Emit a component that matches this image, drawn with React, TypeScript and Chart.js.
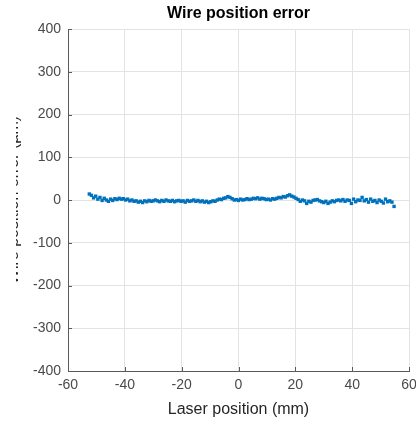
import React, { useEffect, useRef } from "react";
import { Chart, registerables } from "chart.js";

Chart.register(...registerables);

const laserPositions: number[] = [
  -52.5, -51.75, -51, -50.25, -49.5, -48.75, -48, -47.25, -46.5, -45.75,
  -45, -44.25, -43.5, -42.75, -42, -41.25, -40.5, -39.75, -39, -38.25,
  -37.5, -36.75, -36, -35.25, -34.5, -33.75, -33, -32.25, -31.5, -30.75,
  -30, -29.25, -28.5, -27.75, -27, -26.25, -25.5, -24.75, -24, -23.25,
  -22.5, -21.75, -21, -20.25, -19.5, -18.75, -18, -17.25, -16.5, -15.75,
  -15, -14.25, -13.5, -12.75, -12, -11.25, -10.5, -9.75, -9, -8.25,
  -7.5, -6.75, -6, -5.25, -4.5, -3.75, -3, -2.25, -1.5, -0.75,
  0, 0.75, 1.5, 2.25, 3, 3.75, 4.5, 5.25, 6, 6.75,
  7.5, 8.25, 9, 9.75, 10.5, 11.25, 12, 12.75, 13.5, 14.25,
  15, 15.75, 16.5, 17.25, 18, 18.75, 19.5, 20.25, 21, 21.75,
  22.5, 23.25, 24, 24.75, 25.5, 26.25, 27, 27.75, 28.5, 29.25,
  30, 30.75, 31.5, 32.25, 33, 33.75, 34.5, 35.25, 36, 36.75,
  37.5, 38.25, 39, 39.75, 40.5, 41.25, 42, 42.75, 43.5, 44.25,
  45, 45.75, 46.5, 47.25, 48, 48.75, 49.5, 50.25, 51, 51.75,
  52.5, 53.25, 54, 54.75,
];

const wireErrors: number[] = [
  14, 11, 5, 9, 2, 6, -1, 4, 0, -3,
  2, -1, 3, 1, 4, 2, 3, 0, 2, -2,
  0, -3, -2, -5, -3, -6, -2, -4, -1, -3,
  -2, 0, -2, -4, -1, -3, 0, -2, -3, -1,
  -4, -2, -1, -3, -2, -5, -1, -3, -2, 0,
  -3, -1, -4, -2, -5, -3, -6, -4, -2, -3,
  0, 2, 1, 4, 5, 8, 6, 3, 0, 1,
  -1, 2, 0, 1, 3, 1, 2, 4, 3, 5,
  2, 4, 3, 1, 2, 0, 3, 2, 4, 6,
  5, 8, 7, 10, 12, 9, 7, 4, 1, -3,
  0, -2, -8, -3, -5, -1, 0, 1, -2, -4,
  -6, -3, -8, -5, -2, -4, -1, 0, -2, 1,
  -3, 0, -1, -8, 2, -4, 0, -1, 6, -2,
  1, -5, 2, -3, -1, -6, 0, -3, -7, 2,
  -4, -2, -5, -15,
];

const xTickMin = -60;
const xTickMax = 60;
const xTickStep = 20;
const yTickMin = -400;
const yTickMax = 400;
const yTickStep = 100;

const chartTitle = "Wire position error";
const xTitle = "Laser position (mm)";
const yTitle = "Wire position error (\u00b5m)";

const FONT = "'Liberation Sans', Arial, Helvetica, sans-serif";
const AXIS_COLOR = "#5a5a5a";
const GRID_COLOR = "#e3e3e3";
const TICK_COLOR = "#4a4a4a";

const innerTicks = {
  id: "innerTicks",
  afterDraw(chart: any) {
    const { ctx, chartArea, scales } = chart;
    ctx.save();
    ctx.strokeStyle = AXIS_COLOR;
    ctx.lineWidth = 1;
    ctx.beginPath();
    scales.x.ticks.forEach((t: any) => {
      const px = Math.round(scales.x.getPixelForValue(t.value)) + 0.5;
      ctx.moveTo(px, chartArea.bottom);
      ctx.lineTo(px, chartArea.bottom - 4);
    });
    scales.y.ticks.forEach((t: any) => {
      const py = Math.round(scales.y.getPixelForValue(t.value)) + 0.5;
      ctx.moveTo(chartArea.left, py);
      ctx.lineTo(chartArea.left + 4, py);
    });
    ctx.stroke();
    ctx.restore();
  },
};

export default function App() {
  const ref = useRef<HTMLCanvasElement | null>(null);

  useEffect(() => {
    if (!ref.current) return;
    const points = laserPositions.map((x, i) => ({ x, y: wireErrors[i] }));
    const chart = new Chart(ref.current, {
      type: "scatter",
      data: {
        datasets: [
          {
            data: points,
            backgroundColor: "#0072BD",
            borderColor: "#0072BD",
            pointStyle: "rect",
            pointRadius: 2.4,
            pointBorderWidth: 0,
            showLine: false,
          },
        ],
      },
      plugins: [innerTicks],
      options: {
        animation: false,
        responsive: false,
        maintainAspectRatio: false,
        devicePixelRatio: 1,
        layout: { padding: { left: 0, right: 7, top: 0, bottom: 0 } },
        plugins: {
          legend: { display: false },
          tooltip: { enabled: false },
          title: {
            display: true,
            fullSize: false,
            text: chartTitle,
            color: "#000",
            font: { family: FONT, size: 16, weight: "bold", lineHeight: 1.2 },
            padding: { top: 4.4, bottom: 5.4 },
          },
        },
        scales: {
          x: {
            type: "linear",
            min: xTickMin,
            max: xTickMax,
            ticks: {
              stepSize: xTickStep,
              color: TICK_COLOR,
              font: { family: FONT, size: 14 },
              padding: 6,
              maxRotation: 0,
            },
            grid: { color: GRID_COLOR, drawTicks: false },
            border: { display: true, color: AXIS_COLOR, width: 1 },
            title: {
              display: true,
              text: xTitle,
              color: "#262626",
              font: { family: FONT, size: 16, lineHeight: 1.2 },
              padding: { top: 0, bottom: 2 },
            },
            afterFit: (scale: any) => {
              scale.height = 50;
              scale.paddingRight = 0;
              scale.paddingLeft = 0;
            },
          },
          y: {
            type: "linear",
            min: yTickMin,
            max: yTickMax,
            ticks: {
              stepSize: yTickStep,
              color: TICK_COLOR,
              font: { family: FONT, size: 14 },
              padding: 7,
            },
            grid: { color: GRID_COLOR, drawTicks: false },
            border: { display: true, color: AXIS_COLOR, width: 1 },
            title: {
              display: true,
              text: yTitle,
              color: "#262626",
              font: { family: FONT, size: 16, lineHeight: 1.2 },
              padding: { top: 4.4, bottom: 0 },
            },
            afterFit: (scale: any) => {
              scale.width = 68;
            },
          },
        },
      },
    });
    return () => chart.destroy();
  }, []);

  return (
    <div
      style={{
        position: "fixed",
        left: 0,
        top: 0,
        width: 416,
        height: 421,
        background: "#fff",
        overflow: "hidden",
      }}
    >
      <canvas
        ref={ref}
        width={416}
        height={421}
        style={{
          display: "block",
          width: 416,
          height: 421,
          clipPath: "inset(0px 0px 0px 16px)",
        }}
      />
    </div>
  );
}
